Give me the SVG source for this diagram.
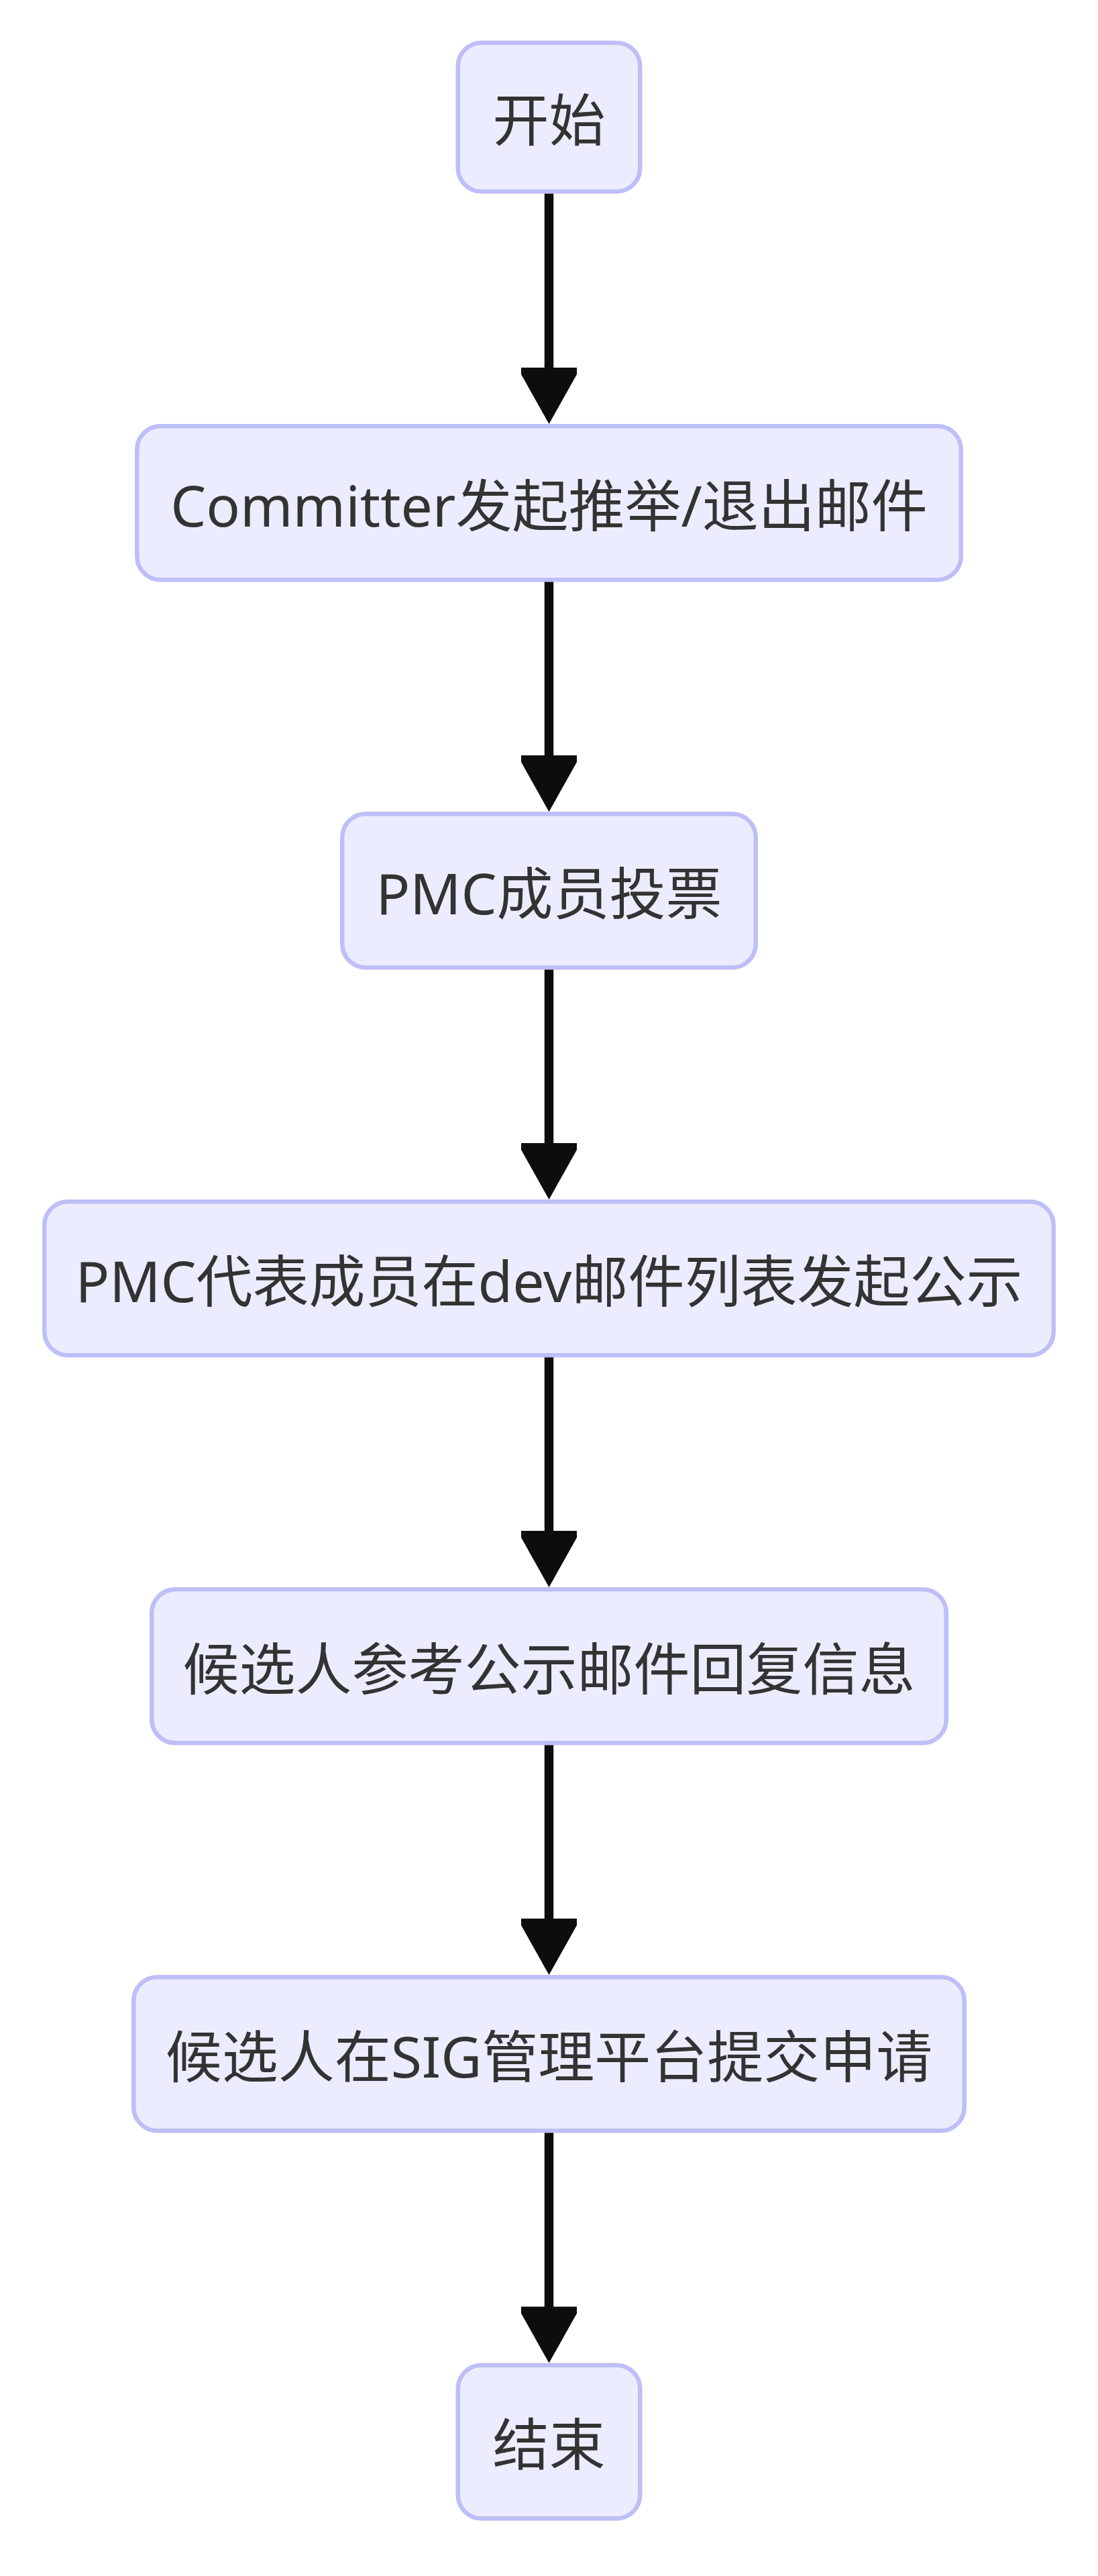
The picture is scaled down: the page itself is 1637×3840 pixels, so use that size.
<svg xmlns="http://www.w3.org/2000/svg" xmlns:xlink="http://www.w3.org/1999/xlink" width="1637" height="3840" viewBox="0 0 1637 3840">
<style>
.node rect{fill:#ECECFF;stroke:#BEBEF8;stroke-width:6.5}
.node text{font-family:"Noto Sans","Noto Sans CJK SC",sans-serif;font-size:84px;fill:#333333;text-anchor:middle}
.edge line{stroke:#0D0D0D;stroke-width:13.5}
.edge use{fill:#0D0D0D}
</style>
<defs>
<path id="ah" d="M-41.5,-84 L41.5,-84 L41.5,-74 L0,0 L-41.5,-74 Z"/>
</defs>
<rect width="1637" height="3840" fill="#ffffff"/>
<g id="edges" class="edge">
<line x1="818.5" y1="288" x2="818.5" y2="550"/>
<use xlink:href="#ah" x="818.5" y="632"/>
<line x1="818.5" y1="867" x2="818.5" y2="1128"/>
<use xlink:href="#ah" x="818.5" y="1210"/>
<line x1="818.5" y1="1445" x2="818.5" y2="1706"/>
<use xlink:href="#ah" x="818.5" y="1788"/>
<line x1="818.5" y1="2023" x2="818.5" y2="2284"/>
<use xlink:href="#ah" x="818.5" y="2366"/>
<line x1="818.5" y1="2601" x2="818.5" y2="2862"/>
<use xlink:href="#ah" x="818.5" y="2944"/>
<line x1="818.5" y1="3179" x2="818.5" y2="3440"/>
<use xlink:href="#ah" x="818.5" y="3522.5"/>
</g>
<g id="node-start" class="node">
<rect x="682.75" y="63.75" width="271.5" height="221.8" rx="35"/>
<text x="818.5" y="209.6">开始</text>
</g>
<g id="node-nominate" class="node">
<rect x="204.25" y="635.25" width="1228.5" height="229" rx="35"/>
<text x="818.5" y="784.8">Committer发起推举/退出邮件</text>
</g>
<g id="node-vote" class="node">
<rect x="510.25" y="1213.25" width="616.5" height="229" rx="35"/>
<text x="818.5" y="1362.8">PMC成员投票</text>
</g>
<g id="node-announce" class="node">
<rect x="66.25" y="1791.25" width="1504.5" height="229" rx="35"/>
<text x="818.5" y="1940.8">PMC代表成员在dev邮件列表发起公示</text>
</g>
<g id="node-reply" class="node">
<rect x="226.25" y="2369.25" width="1184.5" height="229" rx="35"/>
<text x="818.5" y="2518.8">候选人参考公示邮件回复信息</text>
</g>
<g id="node-apply" class="node">
<rect x="199.25" y="2947.25" width="1238.5" height="229" rx="35"/>
<text x="818.5" y="3096.8">候选人在SIG管理平台提交申请</text>
</g>
<g id="node-end" class="node">
<rect x="682.75" y="3525.75" width="271.5" height="228.5" rx="35"/>
<text x="818.5" y="3675">结束</text>
</g>
</svg>
